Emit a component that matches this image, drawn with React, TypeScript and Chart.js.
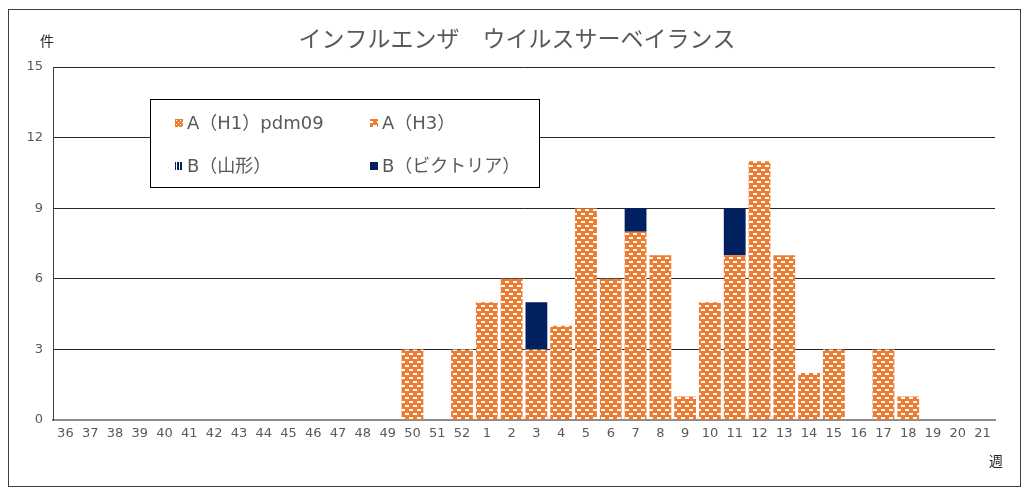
import React, { useEffect, useRef } from 'react';
import { Chart, registerables } from 'chart.js';

Chart.register(...registerables);

const titleText = 'インフルエンザ　ウイルスサーベイランス';
const yUnit = '件';
const xUnit = '週';

const weeks = [
  '36', '37', '38', '39', '40', '41', '42', '43', '44', '45', '46', '47', '48', '49', '50', '51', '52',
  '1', '2', '3', '4', '5', '6', '7', '8', '9', '10', '11', '12', '13', '14', '15', '16', '17', '18', '19', '20', '21',
];

const seriesNames = ['A（H1）pdm09', 'A（H3）', 'B（山形）', 'B（ビクトリア）'];

const h1pdm09 = [
  0, 0, 0, 0, 0, 0, 0, 0, 0, 0, 0, 0, 0, 0, 0, 0, 0,
  0, 0, 0, 0, 0, 0, 0, 0, 0, 0, 0, 0, 0, 0, 0, 0, 0, 0, 0, 0, 0,
];
const h3 = [
  0, 0, 0, 0, 0, 0, 0, 0, 0, 0, 0, 0, 0, 0, 3, 0, 3,
  5, 6, 3, 4, 9, 6, 8, 7, 1, 5, 7, 11, 7, 2, 3, 0, 3, 1, 0, 0, 0,
];
const yamagata = [
  0, 0, 0, 0, 0, 0, 0, 0, 0, 0, 0, 0, 0, 0, 0, 0, 0,
  0, 0, 0, 0, 0, 0, 0, 0, 0, 0, 0, 0, 0, 0, 0, 0, 0, 0, 0, 0, 0,
];
const victoria = [
  0, 0, 0, 0, 0, 0, 0, 0, 0, 0, 0, 0, 0, 0, 0, 0, 0,
  0, 0, 2, 0, 0, 0, 1, 0, 0, 0, 2, 0, 0, 0, 0, 0, 0, 0, 0, 0, 0,
];

const yTicks = [0, 3, 6, 9, 12, 15];

const ORANGE = '#ED7D31';
const NAVY = '#002060';
const GRAY_TEXT = '#595959';
const FONT = "'DejaVu Sans', 'Noto Sans CJK JP', sans-serif";
const CJK = "'Noto Sans CJK JP', 'Noto Sans', sans-serif";

function makeTile(w: number, h: number, draw: (c: CanvasRenderingContext2D) => void) {
  const cv = document.createElement('canvas');
  cv.width = w;
  cv.height = h;
  const c = cv.getContext('2d')!;
  draw(c);
  return cv;
}

export default function App() {
  const ref = useRef<HTMLCanvasElement | null>(null);

  useEffect(() => {
    const canvas = ref.current!;
    const ctx0 = canvas.getContext('2d')!;

    const brickTile = makeTile(8, 8, (c) => {
      c.fillStyle = ORANGE;
      c.fillRect(0, 0, 8, 8);
      c.fillStyle = '#ffffff';
      c.fillRect(1, 1, 4, 2);
      c.fillRect(5, 5, 3, 2);
      c.fillRect(0, 5, 1, 2);
    });
    const checkTile = makeTile(4, 4, (c) => {
      c.fillStyle = ORANGE;
      c.fillRect(0, 0, 4, 4);
      c.fillStyle = '#ffffff';
      c.fillRect(0, 0, 1, 1);
      c.fillRect(2, 2, 1, 1);
    });
    const stripeTile = makeTile(3, 3, (c) => {
      c.fillStyle = '#ffffff';
      c.fillRect(0, 0, 3, 3);
      c.fillStyle = NAVY;
      c.fillRect(0, 0, 2, 3);
    });
    const brick = ctx0.createPattern(brickTile, 'repeat')!;
    const check = ctx0.createPattern(checkTile, 'repeat')!;
    const stripe = ctx0.createPattern(stripeTile, 'repeat')!;

    const fills: (string | CanvasPattern)[] = [check, brick, stripe, NAVY];

    const decor = {
      id: 'decor',
      afterDraw(chart: any) {
        const c = chart.ctx as CanvasRenderingContext2D;
        c.save();
        // outer frame
        c.strokeStyle = '#404040';
        c.lineWidth = 1;
        c.strokeRect(8.5, 9.5, 1012, 477);
        // title
        c.fillStyle = GRAY_TEXT;
        c.font = `23px ${CJK}`;
        c.textAlign = 'center';
        c.textBaseline = 'middle';
        c.fillText(titleText, 517, 38);
        // unit labels
        c.fillStyle = '#262626';
        c.font = `14px ${CJK}`;
        c.fillText(yUnit, 47, 41);
        c.fillText(xUnit, 996, 461);
        // legend box
        c.strokeStyle = '#000000';
        c.lineWidth = 1;
        c.fillStyle = '#ffffff';
        c.fillRect(150.5, 99.5, 389, 88);
        c.strokeRect(150.5, 99.5, 389, 88);
        const pos = [
          [175, 123],
          [370, 123],
          [175, 166],
          [370, 166],
        ];
        c.font = `18px ${FONT}`;
        c.textAlign = 'left';
        c.textBaseline = 'middle';
        pos.forEach(([x, y], i) => {
          c.fillStyle = fills[i] as any;
          c.fillRect(x, y - 4, 8, 8);
          c.fillStyle = GRAY_TEXT;
          c.fillText(seriesNames[i], x + 12, y + 1);
        });
        c.restore();
      },
    };

    const chart = new Chart(canvas, {
      type: 'bar',
      data: {
        labels: weeks,
        datasets: [
          { label: seriesNames[1], data: h3, backgroundColor: brick as any, order: 1 },
          { label: seriesNames[0], data: h1pdm09, backgroundColor: check as any, order: 2 },
          { label: seriesNames[2], data: yamagata, backgroundColor: stripe as any, order: 3 },
          { label: seriesNames[3], data: victoria, backgroundColor: NAVY, order: 4 },
        ].map((d) => ({ ...d, barPercentage: 0.88, categoryPercentage: 1, borderWidth: 0 })),
      },
      options: {
        animation: false,
        responsive: false,
        maintainAspectRatio: false,
        layout: { padding: { left: 0, right: 35, top: 67, bottom: 0 } },
        plugins: {
          legend: { display: false },
          title: { display: false },
          tooltip: { enabled: false },
        },
        scales: {
          x: {
            stacked: true,
            grid: { display: false, drawTicks: false },
            border: { display: true, color: '#8c8c8c', width: 2 },
            ticks: {
              autoSkip: false,
              maxRotation: 0,
              minRotation: 0,
              padding: 6,
              color: GRAY_TEXT,
              font: { family: FONT, size: 13 },
            },
            afterFit: (s: any) => {
              s.height = 69;
            },
          },
          y: {
            stacked: true,
            min: 0,
            max: 15,
            afterBuildTicks: (s: any) => {
              s.ticks = yTicks.map((v) => ({ value: v }));
            },
            grid: {
              drawTicks: false,
              color: (ctx: any) => (ctx.tick && ctx.tick.value === 0 ? 'rgba(0,0,0,0)' : '#262626'),
              lineWidth: 1,
            },
            border: { display: true, color: '#404040', width: 1 },
            ticks: {
              padding: 10,
              color: GRAY_TEXT,
              font: { family: FONT, size: 13 },
            },
            afterFit: (s: any) => {
              s.width = 53;
            },
          },
        },
      },
      plugins: [decor],
    });

    return () => {
      chart.destroy();
    };
  }, []);

  return (
    <div style={{ position: 'absolute', left: 0, top: 0, width: 1030, height: 489, background: '#fff' }}>
      <canvas ref={ref} width={1030} height={489} style={{ width: 1030, height: 489, display: 'block' }} />
    </div>
  );
}
